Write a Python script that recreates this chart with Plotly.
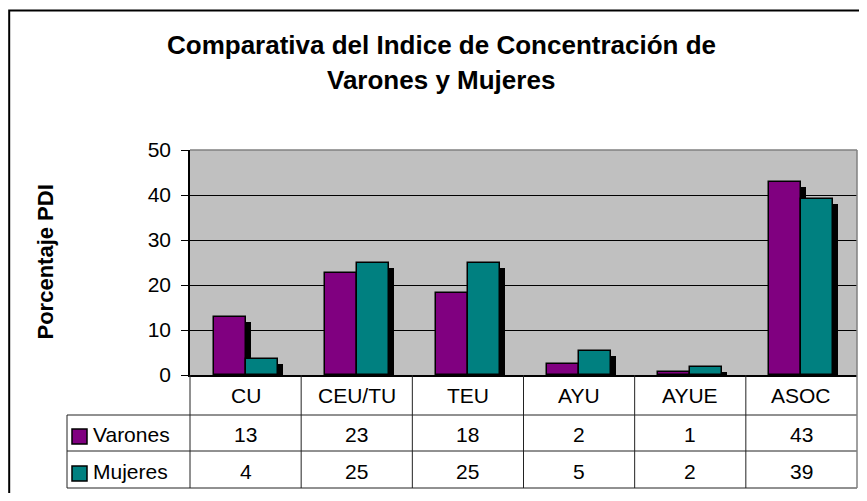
import plotly.graph_objects as go

# ---- data ----
categories = ["CU", "CEU/TU", "TEU", "AYU", "AYUE", "ASOC"]
varones = [13.0, 22.6, 18.3, 2.4, 0.6, 43.0]
mujeres = [3.6, 24.8, 25.0, 5.4, 1.8, 39.1]
series_names = ["Varones", "Mujeres"]
series_colors = ["#800080", "#008080"]
y_ticks = [0, 10, 20, 30, 40, 50]
title_lines = ["Comparativa del Indice de Concentración de", "Varones y Mujeres"]
y_title = "Porcentaje PDI"

# ---- geometry (page pixels; the page body has an 8px margin) ----
OFF = 8
W, H = 859, 485
P_L, P_R, P_T, P_B = 190, 857, 150, 375      # plot area in page pixels
PW, PH = P_R - P_L, P_B - P_T
YMAX = 50.0


def px(x):
    return (x - P_L) / PW


def py(y):
    return (P_B - y) / PH


FONT = "Arial, 'Liberation Sans', sans-serif"
n = len(categories)
bw = 32 / (PW / n)                  # bar width in category units
sh_dx = 5 / (PW / n)                # shadow x offset
sh_dy = 5 / (PH / YMAX)             # shadow y offset (data units)

fig = go.Figure()
series = [varones, mujeres]
offsets = [-bw, 0.0]
for name, vals, col, off in zip(series_names, series, series_colors, offsets):
    fig.add_trace(go.Bar(
        x=categories, y=[max(v - sh_dy, 0) for v in vals],
        width=bw, offset=off + sh_dx,
        marker=dict(color="black", line=dict(width=0)),
        showlegend=False, hoverinfo="skip"))
    fig.add_trace(go.Bar(
        x=categories, y=vals, name=name,
        width=bw, offset=off,
        marker=dict(color=col, line=dict(color="black", width=1.5)),
        showlegend=False))

shapes = []
# outer frame (left edge as close to the page edge as the figure allows)
shapes.append(dict(type="rect", xref="paper", yref="paper",
                   x0=px(OFF + 1.2), x1=px(900), y0=py(10.5), y1=py(600),
                   line=dict(color="black", width=2)))
# plot area top/right border (gray)
shapes.append(dict(type="line", xref="paper", yref="paper", x0=0, x1=1, y0=1, y1=1,
                   line=dict(color="#808080", width=1.5)))
shapes.append(dict(type="line", xref="paper", yref="paper", x0=1, x1=1, y0=0, y1=1,
                   line=dict(color="#808080", width=1.5)))

# data table
tcol = "#222222"
for yy in [415, 451, 488]:
    shapes.append(dict(type="line", xref="paper", yref="paper",
                       x0=px(67), x1=1, y0=py(yy), y1=py(yy),
                       line=dict(color=tcol, width=1)))
shapes.append(dict(type="line", xref="paper", yref="paper",
                   x0=px(67), x1=px(67), y0=py(415), y1=py(488),
                   line=dict(color=tcol, width=1)))
for i in range(n + 1):
    shapes.append(dict(type="line", xref="paper", yref="paper",
                       x0=i / n, x1=i / n, y0=0, y1=py(488),
                       line=dict(color="#808080" if i == n else tcol,
                                 width=1.5 if i == n else 1)))

annotations = []
# title
for txt, yc in zip(title_lines, [45, 80]):
    annotations.append(dict(text=f"<b>{txt}</b>", xref="paper", yref="paper",
                            x=px(441), y=py(yc), xanchor="center", yanchor="middle",
                            showarrow=False, font=dict(family=FONT, size=26, color="black")))
# y title
annotations.append(dict(text=f"<b>{y_title}</b>", xref="paper", yref="paper",
                        x=px(45), y=0.5, textangle=-90, xanchor="center", yanchor="middle",
                        showarrow=False, font=dict(family=FONT, size=22, color="black")))
# header row
for c in categories:
    annotations.append(dict(text=c, xref="x", yref="paper", x=c, y=py(395),
                            xanchor="center", yanchor="middle", showarrow=False,
                            font=dict(family=FONT, size=21, color="black")))
# value rows
row_centers = [434, 471]
key_tops = [429, 466]
for name, vals, col, yc, kt in zip(series_names, series, series_colors, row_centers, key_tops):
    annotations.append(dict(text=name, xref="paper", yref="paper", x=px(91), y=py(yc),
                            xanchor="left", yanchor="middle", showarrow=False,
                            font=dict(family=FONT, size=21, color="black")))
    shapes.append(dict(type="rect", xref="paper", yref="paper",
                       x0=px(72), x1=px(87), y0=py(kt), y1=py(kt + 15),
                       fillcolor=col, line=dict(color="black", width=1.5)))
    for c, v in zip(categories, vals):
        annotations.append(dict(text=f"{v:.0f}", xref="x", yref="paper", x=c, y=py(yc),
                                xanchor="center", yanchor="middle", showarrow=False,
                                font=dict(family=FONT, size=21, color="black")))

fig.update_layout(
    width=W, height=H, autosize=False,
    margin=dict(l=P_L - OFF, r=W - (P_R - OFF), t=P_T - OFF, b=H - (P_B - OFF), pad=0),
    paper_bgcolor="white", plot_bgcolor="#C0C0C0",
    barmode="overlay", bargap=0,
    shapes=shapes, annotations=annotations,
    showlegend=False,
    xaxis=dict(type="category", range=[-0.5, n - 0.5], showticklabels=False,
               ticks="", showgrid=False, showline=True, linecolor="black", linewidth=1.5,
               zeroline=False, fixedrange=True),
    yaxis=dict(range=[0, YMAX], tickvals=y_ticks, ticks="outside", ticklen=7,
               tickcolor="black", tickwidth=1, showline=True, linecolor="black", linewidth=1.5,
               showgrid=True, gridcolor="black", gridwidth=1, zeroline=False,
               tickfont=dict(family=FONT, size=21, color="black"),
               ticklabelstandoff=6, fixedrange=True),
    font=dict(family=FONT, color="black"),
)

fig.write_html("out.html")
